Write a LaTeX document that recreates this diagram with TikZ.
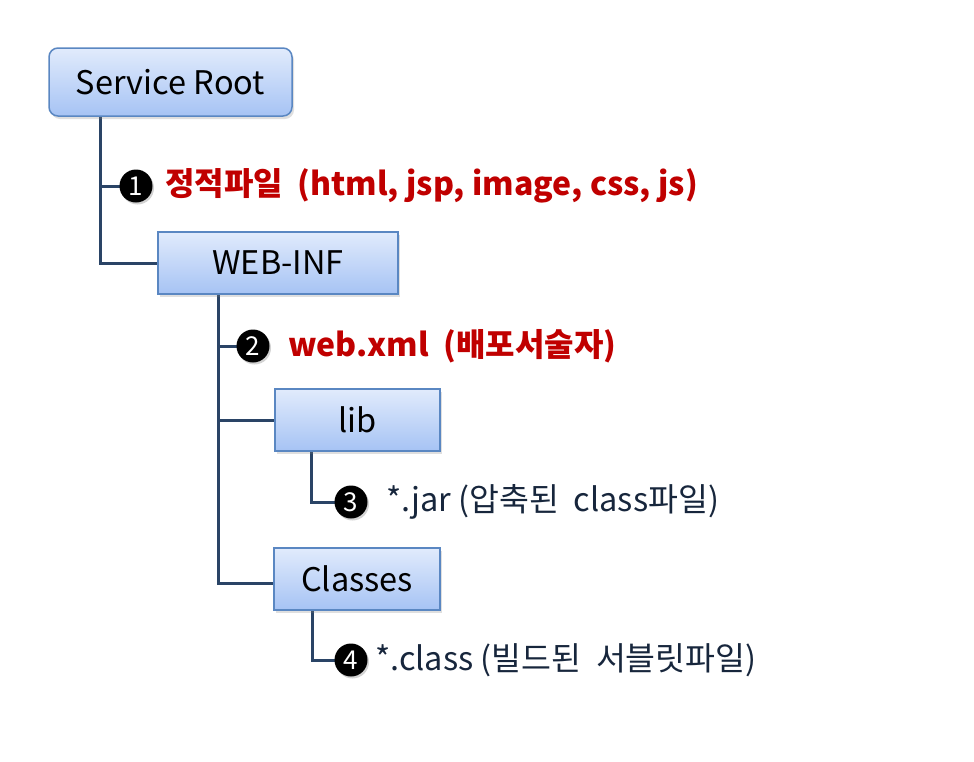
\documentclass[tikz,border=0pt]{standalone}
\usepackage{fontspec}
\setmainfont{Noto Sans CJK KR}
\usetikzlibrary{shadows}
\pgfdeclarelayer{background}
\pgfsetlayers{background,main}
\definecolor{boxtop}{HTML}{E1EBFC}
\definecolor{boxbot}{HTML}{A6C3F4}
\definecolor{boxedge}{HTML}{5A87C2}
\definecolor{linec}{HTML}{2A4466}
\definecolor{redt}{HTML}{C00000}
\definecolor{textc}{HTML}{17263C}
\tikzset{
  folder/.style={draw=boxedge, line width=1.5pt, top color=boxtop, bottom color=boxbot,
    drop shadow={shadow xshift=2pt, shadow yshift=-3pt, opacity=0.25},
    font=\fontsize{32.5}{35}\selectfont, text=black, inner sep=0pt},
  conn/.style={draw=linec, line width=3pt},
  bullet/.style={circle, fill=black, minimum size=33pt, inner sep=0pt, text=white,
    font=\fontsize{26}{28}\selectfont,
    drop shadow={shadow xshift=1.5pt, shadow yshift=-2pt, opacity=0.35}},
  redlabel/.style={anchor=west, text=redt, font=\fontsize{32}{34}\selectfont\bfseries, inner sep=0pt},
  plainlabel/.style={anchor=west, text=textc, font=\fontsize{32.5}{34}\selectfont, inner sep=0pt}
}
\begin{document}
\begin{tikzpicture}[x=1pt,y=-1pt]
\useasboundingbox (0,0) rectangle (974,761);
% boxes
\node[folder, rounded corners=9pt, minimum width=243pt, minimum height=68pt] (root) at (170.5,82) {Service Root};
\node[folder, minimum width=240pt, minimum height=62pt] (webinf) at (278,263) {WEB-INF};
\node[folder, minimum width=165pt, minimum height=62pt] (lib) at (357.5,420) {lib};
\node[folder, minimum width=166pt, minimum height=62pt] (classes) at (357,579) {Classes};
% coordinates
\coordinate (r0) at (100,116);
\coordinate (r1) at (100,186);
\coordinate (r2) at (100,263);
\coordinate (w0) at (218,294);
\coordinate (w1) at (218,346);
\coordinate (w2) at (218,420);
\coordinate (w3) at (218,583);
\coordinate (l0) at (311,451);
\coordinate (l1) at (311,502);
\coordinate (c0) at (312,610);
\coordinate (c1) at (312,660);
% bullets
\node[bullet] (b1) at (136,186) {1};
\node[bullet] (b2) at (253,346) {2};
\node[bullet] (b3) at (351,502) {3};
\node[bullet] (b4) at (351,660) {4};
% connectors
\begin{pgfonlayer}{background}
\draw[conn] (r0) -- (r2) -- (webinf.west);
\draw[conn] (r1) -- (b1.center);
\draw[conn] (w0) -- (w3) -- (w3 -| classes.west);
\draw[conn] (w1) -- (b2.center);
\draw[conn] (w2) -- (lib.west);
\draw[conn] (l0) -- (l1) -- (b3.center);
\draw[conn] (c0) -- (c1) -- (b4.center);
\end{pgfonlayer}
% labels
\node[redlabel] (t1) at (165,186) {정적파일 \ (html, jsp, image, css, js)};
\node[redlabel] (t2) at (288,346) {web.xml \ (배포서술자)};
\node[plainlabel] (t3) at (386,502) {*.jar (압축된 \ class파일)};
\node[plainlabel] (t4) at (375,660) {*.class (빌드된 \ 서블릿파일)};
\end{tikzpicture}
\end{document}
